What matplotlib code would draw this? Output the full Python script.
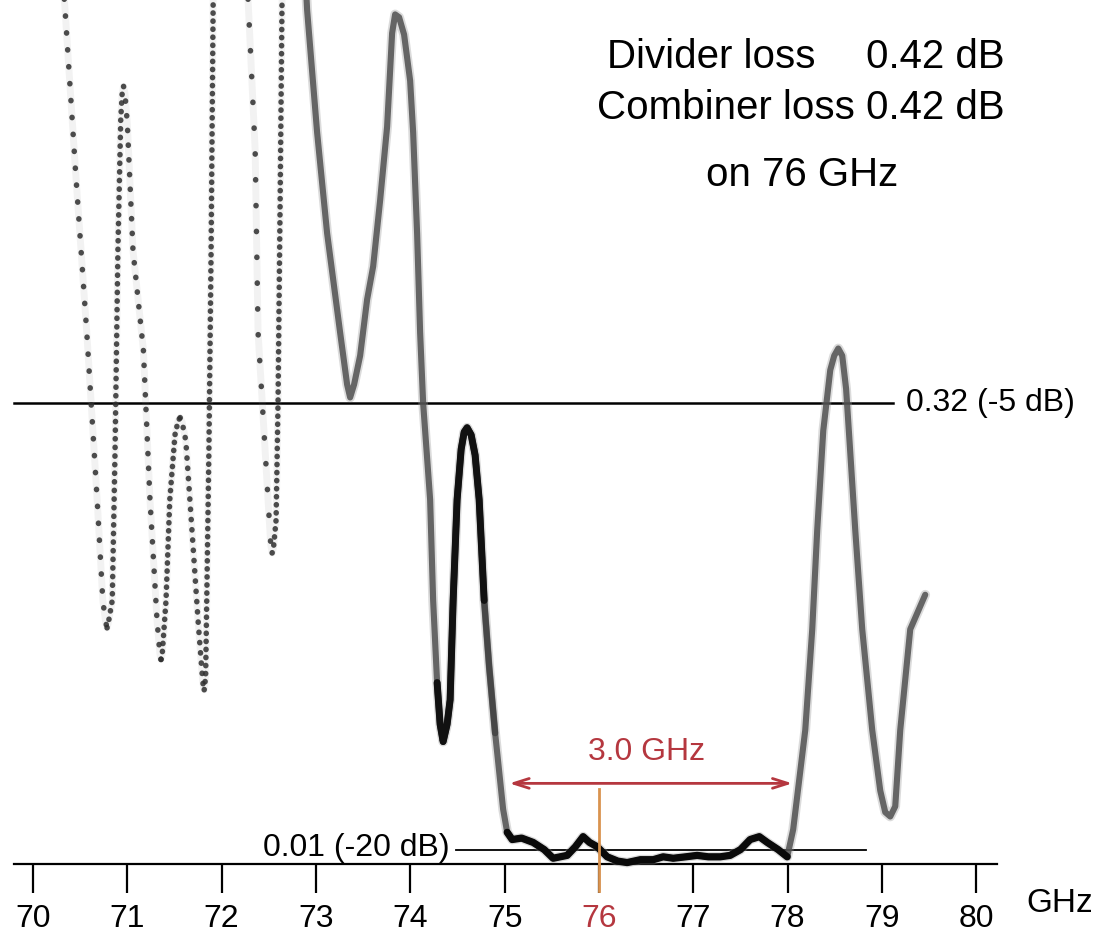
import matplotlib
matplotlib.use("Agg")
import matplotlib.pyplot as plt
import numpy as np

plt.rcParams['font.family'] = ['Liberation Sans', 'DejaVu Sans']

# Transmission magnitude vs frequency (linear scale), traced off the analyzer sweep
freq_ghz = [
    70.30, 70.34, 70.45, 70.57, 70.68, 70.74, 70.77, 70.785, 70.80, 70.84,
    70.87, 70.90, 70.93, 70.945, 70.96, 70.975, 71.00, 71.06, 71.17, 71.24,
    71.315, 71.345, 71.357, 71.37, 71.41, 71.45, 71.505, 71.54, 71.56, 71.58,
    71.62, 71.685, 71.75, 71.80, 71.815, 71.83, 71.865, 71.888, 71.91,
    71.93, 72.10, 72.26, 72.28, 72.355, 72.386, 72.46, 72.52, 72.535, 72.55,
    72.577, 72.598, 72.62, 72.64, 72.66, 72.76, 72.87, 72.906, 73.012, 73.118,
    73.256, 73.330, 73.362, 73.404, 73.468, 73.542, 73.606, 73.680, 73.754, 73.807,
    73.839, 73.881, 73.934, 73.998, 74.030, 74.072, 74.104, 74.136, 74.210, 74.242,
    74.284, 74.316, 74.348, 74.390, 74.422, 74.454, 74.496, 74.539, 74.571, 74.602,
    74.645, 74.687, 74.730, 74.783, 74.836, 74.899, 74.952, 74.984, 75.027, 75.080,
    75.18, 75.302, 75.42, 75.514, 75.663, 75.75, 75.832, 75.90, 75.981, 76.087,
    76.20, 76.299, 76.44, 76.575, 76.68, 76.787, 76.92, 77.041, 77.16, 77.285,
    77.391, 77.50, 77.603, 77.70, 77.784, 77.90, 77.996, 78.059, 78.187, 78.261,
    78.314, 78.378, 78.452, 78.494, 78.537, 78.579, 78.620, 78.660, 78.717, 78.791,
    78.897, 78.982, 79.035, 79.088, 79.141, 79.194, 79.300, 79.459,
]
magnitude = [
    0.628, 0.593, 0.482, 0.369, 0.253, 0.183, 0.168, 0.164, 0.168, 0.183,
    0.288, 0.426, 0.517, 0.535, 0.540, 0.535, 0.514, 0.426, 0.357, 0.253,
    0.169, 0.146, 0.142, 0.146, 0.183, 0.253, 0.298, 0.308, 0.310, 0.307,
    0.294, 0.232, 0.169, 0.126, 0.121, 0.130, 0.288, 0.426, 0.600,
    0.642, 0.720, 0.640, 0.600, 0.496, 0.369, 0.288, 0.222, 0.216, 0.220,
    0.239, 0.322, 0.461, 0.600, 0.642, 0.700, 0.640, 0.593, 0.508, 0.438,
    0.369, 0.333, 0.324, 0.333, 0.353, 0.392, 0.415, 0.461, 0.512, 0.577,
    0.590, 0.588, 0.576, 0.544, 0.508, 0.438, 0.369, 0.320, 0.253, 0.183,
    0.126, 0.097, 0.085, 0.097, 0.114, 0.183, 0.253, 0.288, 0.300, 0.303,
    0.298, 0.284, 0.253, 0.183, 0.137, 0.091, 0.058, 0.038, 0.022, 0.017,
    0.018, 0.015, 0.010, 0.004, 0.006, 0.012, 0.019, 0.015, 0.012, 0.005,
    0.002, 0.001, 0.003, 0.003, 0.005, 0.004, 0.005, 0.006, 0.005, 0.005,
    0.006, 0.010, 0.017, 0.019, 0.015, 0.010, 0.005, 0.024, 0.093, 0.163,
    0.232, 0.301, 0.343, 0.353, 0.358, 0.353, 0.330, 0.290, 0.232, 0.163,
    0.093, 0.051, 0.036, 0.033, 0.040, 0.093, 0.163, 0.187,
]

x_ticks = [70, 71, 72, 73, 74, 75, 76, 77, 78, 79, 80]
x_tick_labels = ["70", "71", "72", "73", "74", "75", "76", "77", "78", "79", "80"]

level_minus5 = 0.32
level_minus5_label = "0.32 (-5 dB)"
level_minus20 = 0.01
level_minus20_label = "0.01 (-20 dB)"

center_freq = 76
band_start = 75.05
band_width = 3.0
band_label = "3.0 GHz"

loss_names = ["Divider loss", "Combiner loss"]
loss_values = ["0.42 dB", "0.42 dB"]
loss_note = "on 76 GHz"

# early sweep is drawn as dots; the dot spacing follows the sweep direction
dot_sections = [
    (70.25, 70.785, 3.0), (70.785, 70.955, 1.5), (70.955, 71.357, 2.6),
    (71.357, 71.56, 1.4), (71.56, 71.815, 1.8), (71.815, 72.00, 1.4),
    (72.00, 72.535, 4.6), (72.535, 72.70, 1.4),
]
dotted_end = 72.70
dark_start, dark_end = 74.27, 74.80
floor_start, floor_end = 75.0, 78.02

RED = "#b5373f"
ORANGE = "#d9934f"

f = np.array(freq_ghz)
m = np.array(magnitude)

fig = plt.figure(figsize=(10.97, 9.34), dpi=100)
ax = fig.add_axes([0, 0, 1, 1])
ax.set_xlim(69.65, 81.28)
ax.set_ylim(-0.0486, 0.60)

# reference levels
ax.plot([69.80, 79.12], [level_minus5, level_minus5], color="black", lw=1.8, zorder=2)
ax.text(79.25, level_minus5, level_minus5_label, fontsize=23, va="center", ha="left")
ax.plot([74.48, 78.83], [level_minus20, level_minus20], color="black", lw=1.3, zorder=2)
ax.text(74.42, level_minus20 + 0.001, level_minus20_label, fontsize=23, va="center", ha="right")

# dotted early part of the sweep
sel = f <= dotted_end
ax.plot(f[sel], m[sel], color="#888888", lw=5.0, alpha=0.10, zorder=3,
        solid_joinstyle="round", solid_capstyle="round")
for lo, hi, gap in dot_sections:
    sel = (f >= lo) & (f <= hi)
    ax.plot(f[sel], m[sel], color="#2e2e2e", lw=4.0, alpha=0.85, zorder=4,
            linestyle=(0, (0.05, gap)), dash_capstyle="round")

# solid later part
sel = f >= dotted_end
ax.plot(f[sel], m[sel], color="#999999", lw=7.0, alpha=0.35, zorder=4,
        solid_joinstyle="round", solid_capstyle="round")
ax.plot(f[sel], m[sel], color="#505050", lw=4.4, alpha=0.85, zorder=5,
        solid_joinstyle="round", solid_capstyle="round")

sel = (f >= dark_start) & (f <= dark_end + 0.1)
ax.plot(f[sel], m[sel], color="#333333", lw=4.8, alpha=0.6, zorder=6,
        solid_joinstyle="round", solid_capstyle="round")
sel = (f >= dark_start) & (f <= dark_end)
ax.plot(f[sel], m[sel], color="#111111", lw=5.0, zorder=6,
        solid_joinstyle="round", solid_capstyle="round")
sel = (f >= floor_start) & (f <= floor_end)
ax.plot(f[sel], m[sel], color="#0a0a0a", lw=5.2, zorder=6,
        solid_joinstyle="round", solid_capstyle="round")

# bandwidth arrow and centre frequency marker
ax.annotate("", xy=(band_start, 0.056), xytext=(band_start + band_width, 0.056),
            arrowprops=dict(arrowstyle="<->,head_length=1.1,head_width=0.35",
                            color=RED, lw=2.0, shrinkA=0, shrinkB=0), zorder=7)
ax.text(band_start + band_width / 2 - 0.05, 0.078, band_label, color=RED,
        fontsize=23, ha="center", va="center")
ax.plot([center_freq, center_freq], [-0.0185, 0.052], color=ORANGE, lw=2.0, zorder=8)

# frequency axis
for s in ["top", "left", "right"]:
    ax.spines[s].set_visible(False)
ax.spines["bottom"].set_position(("data", 0))
ax.spines["bottom"].set_bounds(69.80, 80.22)
ax.spines["bottom"].set_linewidth(1.6)
ax.set_yticks([])
ax.set_xticks(x_ticks, labels=x_tick_labels)
ax.tick_params(axis="x", direction="out", length=21, width=1.6, labelsize=23, pad=8)
for lab in ax.get_xticklabels():
    if lab.get_text() == str(center_freq):
        lab.set_color(RED)
ax.text(0.966, 0.033, "GHz", transform=ax.transAxes, fontsize=24, ha="center", va="center")

# loss summary
for i, (name, val) in enumerate(zip(loss_names, loss_values)):
    yy = 0.939 - i * 0.055
    xl = 0.5533 if i == 0 else 0.5442
    ax.text(xl, yy, name, transform=ax.transAxes, fontsize=29, ha="left", va="center")
    ax.text(0.916, yy, val, transform=ax.transAxes, fontsize=29, ha="right", va="center")
ax.text(0.731, 0.8126, loss_note, transform=ax.transAxes, fontsize=29, ha="center", va="center")

fig.savefig("out.png", dpi=100)
